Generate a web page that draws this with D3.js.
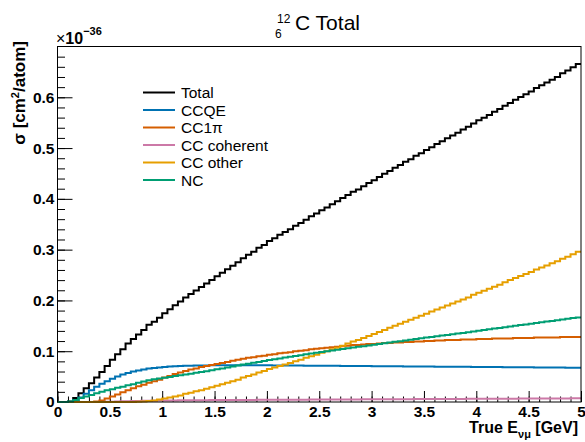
<!DOCTYPE html>
<html lang="en">
<head>
<meta charset="UTF-8">
<script src="https://d3js.org/d3.v7.min.js"></script>
<title>12C Total</title>
<style>
  body { margin: 0; background: #fff; }
  text { font-family: "Liberation Sans", Arial, Helvetica, sans-serif; }
</style>
</head>
<body>
<div id="chart"></div>
<script>
// binning: 100 bins of 0.05 GeV from 0 to 5
var nBins = 100, eMin = 0, eMax = 5;

var seriesNames = ["Total", "CCQE", "CC1\u03c0", "CC coherent", "CC other", "NC"];
var seriesColors = ["#000000", "#0072b2", "#d55e00", "#cc79a7", "#e69f00", "#009e73"];

// cross sections in units of 1e-36 cm2/atom, one value per bin
var total = [0, 0, 0.001, 0.008, 0.017, 0.027, 0.037, 0.048, 0.059, 0.071,
  0.083, 0.094, 0.104, 0.115, 0.124, 0.133, 0.142, 0.152, 0.158, 0.166,
  0.175, 0.1825, 0.1907, 0.1979, 0.2058, 0.2128, 0.2197, 0.2265, 0.2333, 0.2404,
  0.2475, 0.2543, 0.2614, 0.2683, 0.2752, 0.283, 0.290, 0.2957, 0.3035, 0.3092,
  0.317, 0.3226, 0.3292, 0.3348, 0.3404, 0.3469, 0.3525, 0.359, 0.3657, 0.3712,
  0.3777, 0.3831, 0.3896, 0.3951, 0.4015, 0.4078, 0.4142, 0.4185, 0.425, 0.4313,
  0.4367, 0.443, 0.4494, 0.4548, 0.4612, 0.4665, 0.4729, 0.4782, 0.4847, 0.49,
  0.4964, 0.5016, 0.5079, 0.5132, 0.5195, 0.5247, 0.5301, 0.5364, 0.5419, 0.5482,
  0.5546, 0.5599, 0.5653, 0.5717, 0.5771, 0.5833, 0.5887, 0.595, 0.6005, 0.6058,
  0.6112, 0.6185, 0.6239, 0.6293, 0.6346, 0.6399, 0.6473, 0.6526, 0.6591, 0.6653];

var ccqe = [0, 0, 0, 0.004, 0.009, 0.016, 0.023, 0.030, 0.036, 0.041,
  0.046, 0.050, 0.054, 0.057, 0.060, 0.062, 0.064, 0.066, 0.067, 0.068,
  0.069, 0.070, 0.0705, 0.071, 0.0713, 0.0716, 0.0718, 0.072, 0.0721, 0.0722,
  0.0723, 0.0723, 0.0724, 0.0724, 0.0724, 0.0724, 0.0724, 0.0723, 0.0723, 0.0722,
  0.0722, 0.0721, 0.072, 0.072, 0.0719, 0.0718, 0.0717, 0.0716, 0.0716, 0.0715,
  0.0714, 0.0713, 0.0712, 0.0712, 0.0711, 0.071, 0.0709, 0.0708, 0.0708, 0.0707,
  0.0706, 0.0705, 0.0704, 0.0704, 0.0703, 0.0702, 0.0701, 0.07, 0.07, 0.0699,
  0.0698, 0.0697, 0.0696, 0.0696, 0.0695, 0.0694, 0.0693, 0.0692, 0.0692, 0.0691,
  0.069, 0.0689, 0.0688, 0.0688, 0.0687, 0.0686, 0.0685, 0.0684, 0.0684, 0.0683,
  0.0682, 0.0681, 0.068, 0.068, 0.0679, 0.0678, 0.0677, 0.0676, 0.0676, 0.0675];

var cc1pi = [0, 0, 0, 0, 0, 0, 0, 0.001, 0.003, 0.007,
  0.011, 0.015, 0.019, 0.023, 0.027, 0.031, 0.034, 0.038, 0.041, 0.044,
  0.048, 0.051, 0.055, 0.058, 0.061, 0.064, 0.066, 0.069, 0.071, 0.073,
  0.075, 0.077, 0.079, 0.081, 0.083, 0.085, 0.087, 0.088, 0.090, 0.091,
  0.093, 0.094, 0.096, 0.097, 0.098, 0.100, 0.101, 0.102, 0.104, 0.105,
  0.106, 0.107, 0.108, 0.109, 0.110, 0.111, 0.112, 0.112, 0.113, 0.114,
  0.114, 0.115, 0.116, 0.116, 0.117, 0.117, 0.118, 0.118, 0.119, 0.119,
  0.120, 0.120, 0.121, 0.121, 0.122, 0.122, 0.122, 0.123, 0.123, 0.123,
  0.124, 0.124, 0.124, 0.125, 0.125, 0.125, 0.125, 0.126, 0.126, 0.126,
  0.126, 0.127, 0.127, 0.127, 0.127, 0.127, 0.128, 0.128, 0.128, 0.128];

var ccCoherent = [0, 0, 0, 0, 0, 0, 0, 0, 0, 0.0003,
  0.0006, 0.001, 0.0013, 0.0016, 0.0019, 0.0021, 0.0023, 0.0025, 0.0027, 0.0028,
  0.003, 0.0031, 0.0032, 0.0033, 0.0033, 0.0034, 0.0035, 0.0035, 0.0036, 0.0037,
  0.0038, 0.0038, 0.0039, 0.0039, 0.004, 0.004, 0.0041, 0.0041, 0.0042, 0.0042,
  0.0043, 0.0043, 0.0044, 0.0044, 0.0045, 0.0045, 0.0046, 0.0046, 0.0047, 0.0047,
  0.0048, 0.0048, 0.0049, 0.0049, 0.005, 0.005, 0.0051, 0.0051, 0.0052, 0.0052,
  0.0053, 0.0053, 0.0054, 0.0054, 0.0055, 0.0055, 0.0056, 0.0056, 0.0057, 0.0057,
  0.0058, 0.0058, 0.0059, 0.0059, 0.006, 0.006, 0.0061, 0.0061, 0.0062, 0.0062,
  0.0063, 0.0063, 0.0064, 0.0064, 0.0065, 0.0065, 0.0066, 0.0066, 0.0067, 0.0067,
  0.0068, 0.0068, 0.0069, 0.0069, 0.007, 0.007, 0.0071, 0.0071, 0.0072, 0.0072];

var ccOther = [0, 0, 0, 0, 0, 0, 0, 0, 0, 0,
  0, 0, 0, 0, 0, 0.0003, 0.001, 0.002, 0.003, 0.005,
  0.007, 0.009, 0.011, 0.013, 0.016, 0.018, 0.021, 0.023, 0.026, 0.029,
  0.032, 0.035, 0.038, 0.041, 0.044, 0.048, 0.051, 0.054, 0.058, 0.061,
  0.065, 0.068, 0.071, 0.074, 0.077, 0.080, 0.083, 0.087, 0.090, 0.093,
  0.097, 0.100, 0.104, 0.107, 0.111, 0.115, 0.119, 0.122, 0.126, 0.130,
  0.134, 0.138, 0.142, 0.146, 0.150, 0.154, 0.158, 0.162, 0.166, 0.170,
  0.174, 0.178, 0.182, 0.186, 0.190, 0.194, 0.198, 0.202, 0.206, 0.211,
  0.215, 0.219, 0.223, 0.227, 0.231, 0.236, 0.240, 0.244, 0.248, 0.252,
  0.256, 0.261, 0.265, 0.269, 0.273, 0.277, 0.282, 0.286, 0.291, 0.296];

var nc = [0, 0, 0.001, 0.004, 0.008, 0.011, 0.014, 0.017, 0.020, 0.023,
  0.025, 0.028, 0.030, 0.033, 0.035, 0.038, 0.0405, 0.043, 0.0446, 0.0462,
  0.0478, 0.0494, 0.051, 0.0526, 0.0542, 0.0558, 0.0574, 0.059, 0.0606, 0.0625,
  0.0644, 0.0662, 0.0681, 0.070, 0.0718, 0.0736, 0.0755, 0.0773, 0.079, 0.0808,
  0.0825, 0.0842, 0.0858, 0.0874, 0.089, 0.0906, 0.0922, 0.0938, 0.0954, 0.097,
  0.0985, 0.100, 0.1015, 0.103, 0.1044, 0.1058, 0.1072, 0.1086, 0.110, 0.1114,
  0.1128, 0.1142, 0.1156, 0.117, 0.1184, 0.1198, 0.1212, 0.1226, 0.124, 0.1254,
  0.1268, 0.1281, 0.1294, 0.1307, 0.132, 0.1333, 0.1347, 0.1361, 0.1375, 0.1389,
  0.1403, 0.1417, 0.1431, 0.1445, 0.1459, 0.1472, 0.1486, 0.15, 0.1514, 0.1528,
  0.1542, 0.1556, 0.157, 0.1584, 0.1597, 0.1611, 0.1625, 0.1639, 0.1653, 0.1666];

var allSeries = [total, ccqe, cc1pi, ccCoherent, ccOther, nc];

var xMajorTicks = [0, 0.5, 1, 1.5, 2, 2.5, 3, 3.5, 4, 4.5, 5];
var yMajorTicks = [0, 0.1, 0.2, 0.3, 0.4, 0.5, 0.6];

var W = 585, H = 442;
var frame = { left: 57.5, right: 581, top: 46.5, bottom: 402 };

var svg = d3.select("#chart").append("svg")
    .attr("width", W).attr("height", H);

var x = d3.scaleLinear().domain([eMin, eMax]).range([frame.left, frame.right]);
var y = d3.scaleLinear().domain([0, 0.7]).range([frame.bottom, frame.top]);

var binWidth = (eMax - eMin) / nBins;

// minor ticks
svg.append("g")
    .attr("transform", "translate(" + frame.left + ",0)")
    .call(d3.axisLeft(y).tickValues(d3.range(0, 0.69, 0.02)).tickSize(-7.5).tickFormat(""))
    .call(function (g) { g.select(".domain").remove(); });
svg.append("g")
    .attr("transform", "translate(0," + frame.bottom + ")")
    .call(d3.axisBottom(x).tickValues(d3.range(0, 5.01, 0.1)).tickSize(-5.5).tickFormat(""))
    .call(function (g) { g.select(".domain").remove(); });

// major ticks + labels
var yAxis = svg.append("g")
    .attr("transform", "translate(" + frame.left + ",0)")
    .call(d3.axisLeft(y).tickValues(yMajorTicks).tickSize(-15).tickPadding(3)
        .tickFormat(function (d) { return d === 0 ? "0" : d3.format(".1f")(d); }));
yAxis.select(".domain").remove();

var xAxis = svg.append("g")
    .attr("transform", "translate(0," + frame.bottom + ")")
    .call(d3.axisBottom(x).tickValues(xMajorTicks).tickSize(-11).tickPadding(4)
        .tickFormat(function (d) { return String(d); }));
xAxis.select(".domain").remove();

svg.selectAll(".tick text")
    .attr("font-family", "Liberation Sans, Arial, sans-serif")
    .attr("font-size", 15.5).attr("font-weight", "bold").attr("fill", "#000");
svg.selectAll(".tick line").attr("stroke", "#000");

// histograms
var line = d3.line()
    .x(function (d) { return x(d[0]); })
    .y(function (d) { return y(d[1]); })
    .curve(d3.curveStepAfter);

allSeries.forEach(function (vals, k) {
    var pts = vals.map(function (v, i) { return [eMin + i * binWidth, v]; });
    pts.push([eMax, vals[vals.length - 1]]);
    svg.append("path")
        .datum(pts)
        .attr("fill", "none")
        .attr("stroke", seriesColors[k])
        .attr("stroke-width", 2)
        .attr("d", line);
});

// frame
svg.append("rect")
    .attr("x", frame.left).attr("y", frame.top)
    .attr("width", frame.right - frame.left).attr("height", frame.bottom - frame.top)
    .attr("fill", "none").attr("stroke", "#000").attr("stroke-width", 1);

// title: 12 over 6, then C Total
svg.append("text").attr("x", 277).attr("y", 23).attr("font-size", 12).text("12");
svg.append("text").attr("x", 275).attr("y", 38).attr("font-size", 12).text("6");
svg.append("text").attr("x", 295).attr("y", 30).attr("font-size", 21).text("C Total");

// exponent
var expo = svg.append("text").attr("x", 56).attr("y", 44)
    .attr("font-size", 16);
expo.append("tspan").text("\u00d7");
expo.append("tspan").attr("font-weight", "bold").text("10");
expo.append("tspan").attr("dy", -9).attr("font-size", 11).attr("font-weight", "bold").text("\u221236");

// x axis title
var xt = svg.append("text").attr("x", 578).attr("y", 433)
    .attr("text-anchor", "end").attr("font-size", 16).attr("font-weight", "bold");
xt.append("tspan").text("True E");
xt.append("tspan").attr("dy", 5).attr("font-size", 11).text("\u03bd\u03bc");
xt.append("tspan").attr("dy", -5).text(" [GeV]");

// y axis title
var yt = svg.append("text").attr("transform", "translate(25,41) rotate(-90)")
    .attr("text-anchor", "end").attr("font-size", 17).attr("font-weight", "bold");
yt.append("tspan").text("\u03c3 [cm");
yt.append("tspan").attr("dy", -6).attr("font-size", 11).text("2");
yt.append("tspan").attr("dy", 6).text("/atom]");

// legend
var legend = svg.append("g");
seriesNames.forEach(function (name, k) {
    var ly = 92.5 + k * 17.5;
    legend.append("line")
        .attr("x1", 143).attr("x2", 175).attr("y1", ly).attr("y2", ly)
        .attr("stroke", seriesColors[k]).attr("stroke-width", 2);
    legend.append("text")
        .attr("x", 181).attr("y", ly + 5.5)
        .attr("font-size", 15.5).text(name);
});
</script>
</body>
</html>
